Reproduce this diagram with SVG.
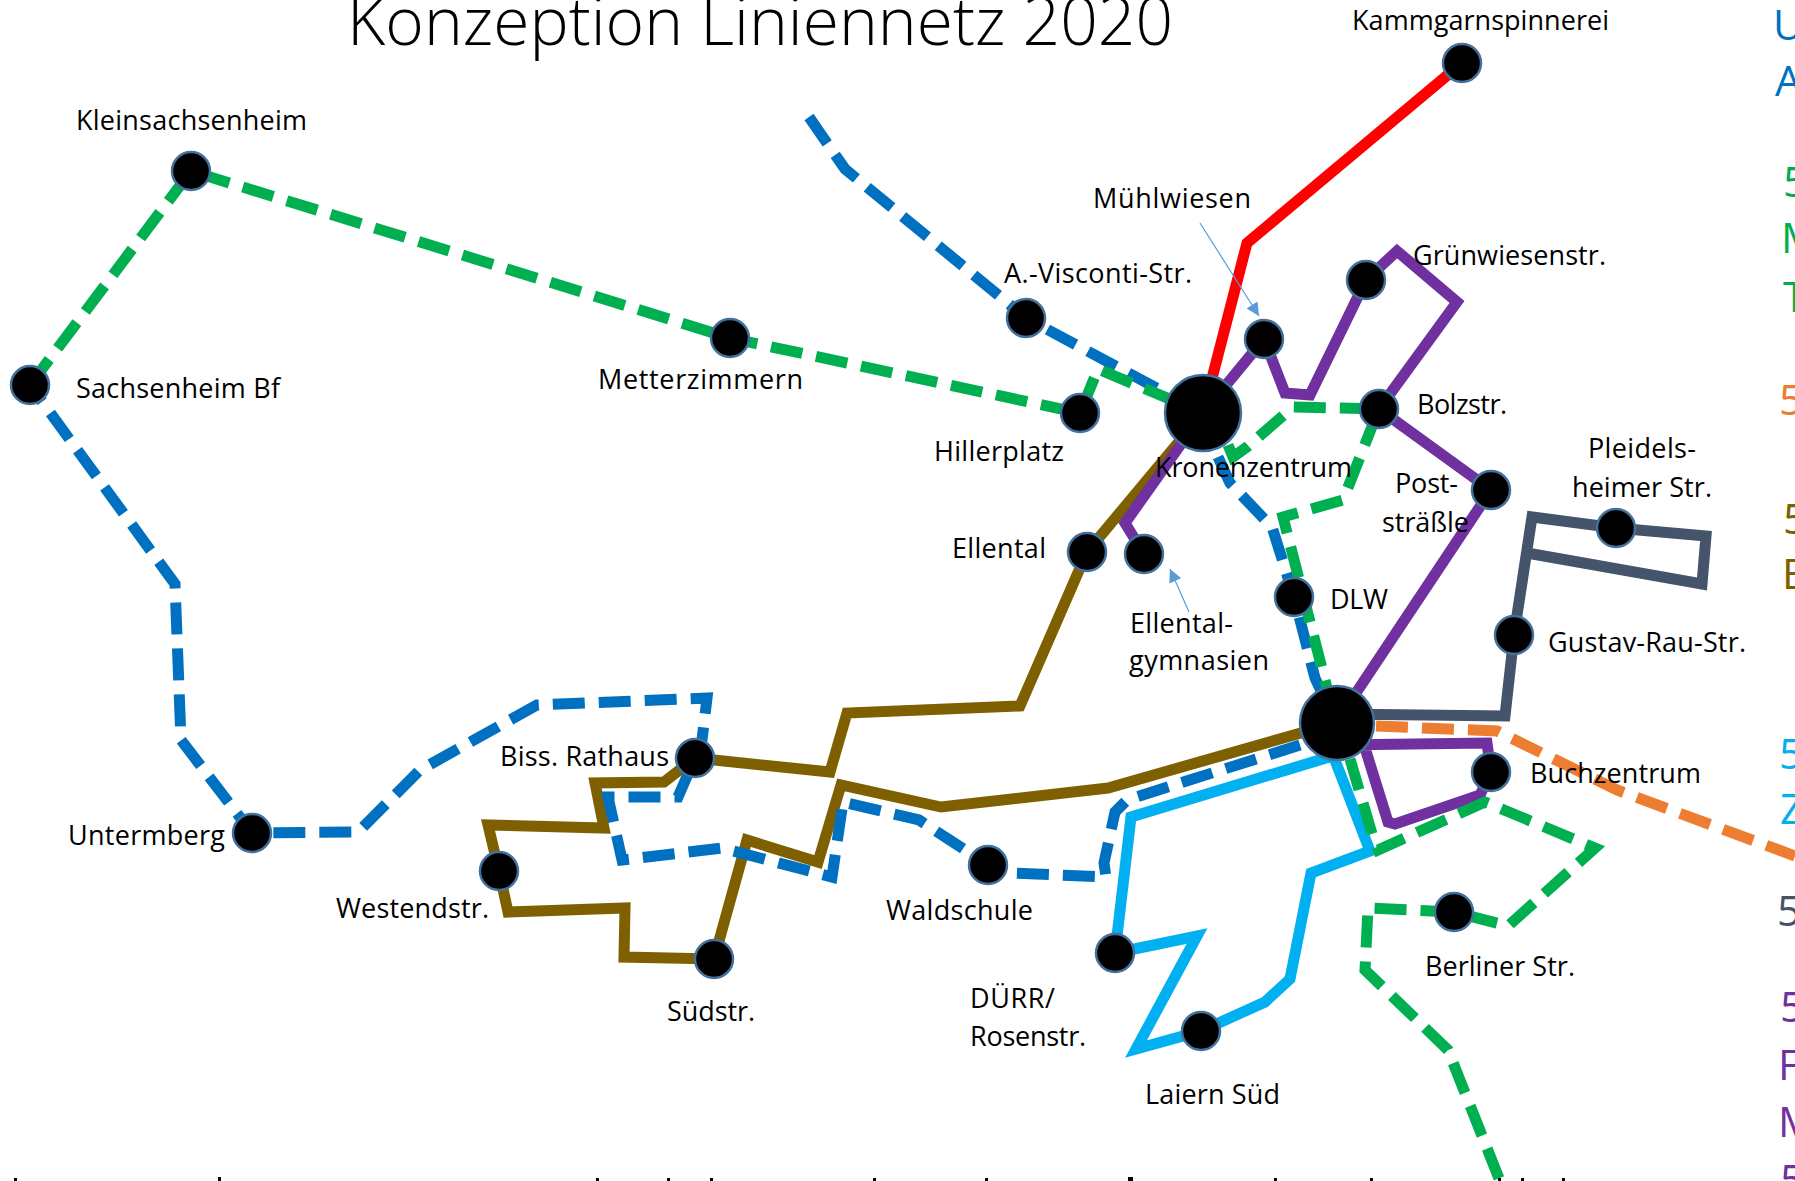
<svg xmlns="http://www.w3.org/2000/svg" width="1795" height="1181" viewBox="0 0 1795 1181">
<style>
text{font-family:"Open Sans","Noto Sans","Liberation Sans",sans-serif;font-size:27px;fill:#000}
.title{font-family:"Open Sans",Lato,sans-serif;font-weight:300;font-size:66px;font-variant-ligatures:none}
.lg{font-size:42px}
.l{fill:none;stroke-width:11;stroke-linejoin:miter;stroke-miterlimit:10}
.d{stroke-dasharray:32 14}
.red{stroke:#FF0000}.grn{stroke:#00B050}.blu{stroke:#0070C0}.cyn{stroke:#00B0F0}.pur{stroke:#7030A0}.brn{stroke:#7F6000}.slt{stroke:#44546A}.org{stroke:#ED7D31}
.n{fill:#000;stroke:#41719C;stroke-width:2.5}
.a{fill:none;stroke:#5B9BD5;stroke-width:1.2}
</style>
<defs>
<marker id="ah" viewBox="0 0 10 10" refX="10" refY="5" markerUnits="userSpaceOnUse" markerWidth="15" markerHeight="13" orient="auto"><path d="M0 0L10 5L0 10Z" fill="#5B9BD5"/></marker>
</defs>
<rect width="1795" height="1181" fill="#fff"/>
<text class="title" x="347" y="45" textLength="826" lengthAdjust="spacingAndGlyphs">Konzeption Liniennetz 2020</text>
<g id="connectors">
<path class="l brn" d="M1203 413L1087 552L1020 706L847 713L830 772L695 758L664 782L595 783L604 828L488 825L499 871L508 912L625 908L624 957L714 959L747 840L818 862L841 785L941 807L1108 788L1336 723"/>
<path class="l pur" d="M1144 554L1125 523L1203 413L1264 339L1285 393L1310 395L1366 280L1397 251L1457 302L1379 409L1491 490L1336 723M1336 745L1487 743L1491 772L1480 795L1395 824L1388 822L1365 748"/>
<path class="l red" d="M1203 413L1247 243L1462 63"/>
<path class="l slt" d="M1336 714L1505 716L1514 635L1532 517L1616 528L1706 536L1702 584L1527 553"/>
<path class="l cyn" d="M1336 755L1131 817L1115 953L1197 936L1136 1049L1201 1031L1265 1002L1290 979L1311 873L1370 851L1333 755"/>
<path class="l org d" d="M1376 726L1497 731L1617 790L1795 856"/>
<path class="l blu d" d="M809 117L845 169L1026 318L1203 413"/>
<path class="l blu d" d="M1218 457L1230 483L1267 522L1272 527L1294 597L1315 678L1336 723"/>
<path class="l blu d" d="M1300 745L1127 800L1115 812L1104 863L1106 877L1012 873L988 865L919 820L843 802L832 877L722 848L622 860L608 797L678 797L695 758L702 740L707 698L537 705L420 770L358 832L252 833L181 740L175 584L30 385"/>
<path class="l grn d" d="M30 385L191 171L730 338L1080 413L1098 369L1203 413"/>
<path class="l grn d" d="M1228 445L1233 457L1247 447L1293 407L1379 409L1343 500L1283 517L1336 723"/>
<path class="l grn d" d="M1350 759L1375 844L1378 850L1485 802L1595 848L1508 926L1454 912L1368 908L1365 970L1448 1050L1500 1181"/>
<path class="a" marker-end="url(#ah)" d="M1200 223L1259 316"/>
<path class="a" marker-end="url(#ah)" d="M1189 612L1170 569"/>
</g>
<g id="hub-kronenzentrum"><circle class="n" cx="1203" cy="413" r="38"/><text x="1155" y="477" textLength="197">Kronenzentrum</text></g>
<g id="hub-bahnhof"><circle class="n" cx="1337" cy="723" r="37"/></g>
<g id="kammgarnspinnerei"><circle class="n" cx="1462" cy="63" r="19"/><text x="1352" y="30" textLength="257">Kammgarnspinnerei</text></g>
<g id="kleinsachsenheim"><circle class="n" cx="191" cy="171" r="19"/><text x="76" y="130" textLength="231">Kleinsachsenheim</text></g>
<g id="sachsenheim-bf"><circle class="n" cx="30" cy="385" r="19"/><text x="76" y="398" textLength="204">Sachsenheim Bf</text></g>
<g id="metterzimmern"><circle class="n" cx="730" cy="338" r="19"/><text x="598" y="389" textLength="205">Metterzimmern</text></g>
<g id="hillerplatz"><circle class="n" cx="1080" cy="413" r="19"/><text x="934" y="461" textLength="130">Hillerplatz</text></g>
<g id="visconti"><circle class="n" cx="1026" cy="318" r="19"/><text x="1004" y="283" textLength="188">A.-Visconti-Str.</text></g>
<g id="muehlwiesen"><circle class="n" cx="1264" cy="339" r="19"/><text x="1093" y="208" textLength="158">Mühlwiesen</text></g>
<g id="gruenwiesen"><circle class="n" cx="1366" cy="280" r="19"/><text x="1413" y="265" textLength="193">Grünwiesenstr.</text></g>
<g id="bolzstr"><circle class="n" cx="1379" cy="409" r="19"/><text x="1417" y="414" textLength="90">Bolzstr.</text></g>
<g id="poststraessle"><circle class="n" cx="1491" cy="490" r="19"/><text x="1395" y="493" textLength="63">Post-</text><text x="1382" y="532" textLength="87">sträßle</text></g>
<g id="pleidelsheimer"><circle class="n" cx="1616" cy="528" r="19"/><text x="1588" y="458" textLength="108">Pleidels-</text><text x="1572" y="497" textLength="140">heimer Str.</text></g>
<g id="ellental"><circle class="n" cx="1087" cy="552" r="19"/><text x="952" y="558" textLength="94">Ellental</text></g>
<g id="ellental-gymnasien"><circle class="n" cx="1144" cy="554" r="19"/><text x="1130" y="633" textLength="103">Ellental-</text><text x="1129" y="670" textLength="140">gymnasien</text></g>
<g id="dlw"><circle class="n" cx="1294" cy="597" r="19"/><text x="1330" y="609" textLength="58">DLW</text></g>
<g id="gustav-rau"><circle class="n" cx="1514" cy="635" r="19"/><text x="1548" y="652" textLength="198">Gustav-Rau-Str.</text></g>
<g id="buchzentrum"><circle class="n" cx="1491" cy="772" r="19"/><text x="1530" y="783" textLength="171">Buchzentrum</text></g>
<g id="berliner"><circle class="n" cx="1454" cy="912" r="19"/><text x="1425" y="976" textLength="150">Berliner Str.</text></g>
<g id="biss-rathaus"><circle class="n" cx="695" cy="758" r="19"/><text x="500" y="766" textLength="169">Biss. Rathaus</text></g>
<g id="westendstr"><circle class="n" cx="499" cy="871" r="19"/><text x="336" y="918" textLength="153">Westendstr.</text></g>
<g id="untermberg"><circle class="n" cx="252" cy="833" r="19"/><text x="68" y="845" textLength="157">Untermberg</text></g>
<g id="suedstr"><circle class="n" cx="714" cy="959" r="19"/><text x="667" y="1021" textLength="88">Südstr.</text></g>
<g id="waldschule"><circle class="n" cx="988" cy="865" r="19"/><text x="886" y="920" textLength="147">Waldschule</text></g>
<g id="duerr"><circle class="n" cx="1115" cy="953" r="19"/><text x="970" y="1008" textLength="85">DÜRR/</text><text x="970" y="1046" textLength="116">Rosenstr.</text></g>
<g id="laiern-sued"><circle class="n" cx="1201" cy="1031" r="19"/><text x="1145" y="1104" textLength="135">Laiern Süd</text></g>
<g id="legend">
<text class="lg" x="1773" y="40" style="fill:#0070C0">U</text>
<text class="lg" x="1775" y="96" style="fill:#0070C0">A</text>
<text class="lg" x="1783" y="197" style="fill:#00B050">5</text>
<text class="lg" x="1781" y="253" style="fill:#00B050">M</text>
<text class="lg" x="1783" y="312" style="fill:#00B050">T</text>
<text class="lg" x="1779" y="415" style="fill:#ED7D31">5</text>
<text class="lg" x="1783" y="534" style="fill:#7F6000">5</text>
<text class="lg" x="1782" y="589" style="fill:#7F6000">E</text>
<text class="lg" x="1779" y="769" style="fill:#00B0F0">5</text>
<text class="lg" x="1780" y="824" style="fill:#00B0F0">Z</text>
<text class="lg" x="1777" y="926" style="fill:#44546A">5</text>
<text class="lg" x="1780" y="1022" style="fill:#7030A0">5</text>
<text class="lg" x="1778" y="1080" style="fill:#7030A0">F</text>
<text class="lg" x="1778" y="1137" style="fill:#7030A0">M</text>
<text class="lg" x="1780" y="1195" style="fill:#7030A0">5</text>
</g>
<g id="cut-off-line" fill="#000">
<rect x="14" y="1178" width="3" height="3"/><rect x="218" y="1177" width="3" height="4"/><rect x="596" y="1178" width="3" height="3"/><rect x="667" y="1178" width="3" height="3"/><rect x="710" y="1178" width="3" height="3"/><rect x="873" y="1178" width="3" height="3"/><rect x="985" y="1178" width="3" height="3"/><rect x="1128" y="1177" width="5" height="4"/><rect x="1274" y="1178" width="3" height="3"/><rect x="1370" y="1178" width="3" height="3"/><rect x="1498" y="1178" width="3" height="3"/><rect x="1521" y="1178" width="3" height="3"/><rect x="1562" y="1178" width="3" height="3"/>
</g>
</svg>
